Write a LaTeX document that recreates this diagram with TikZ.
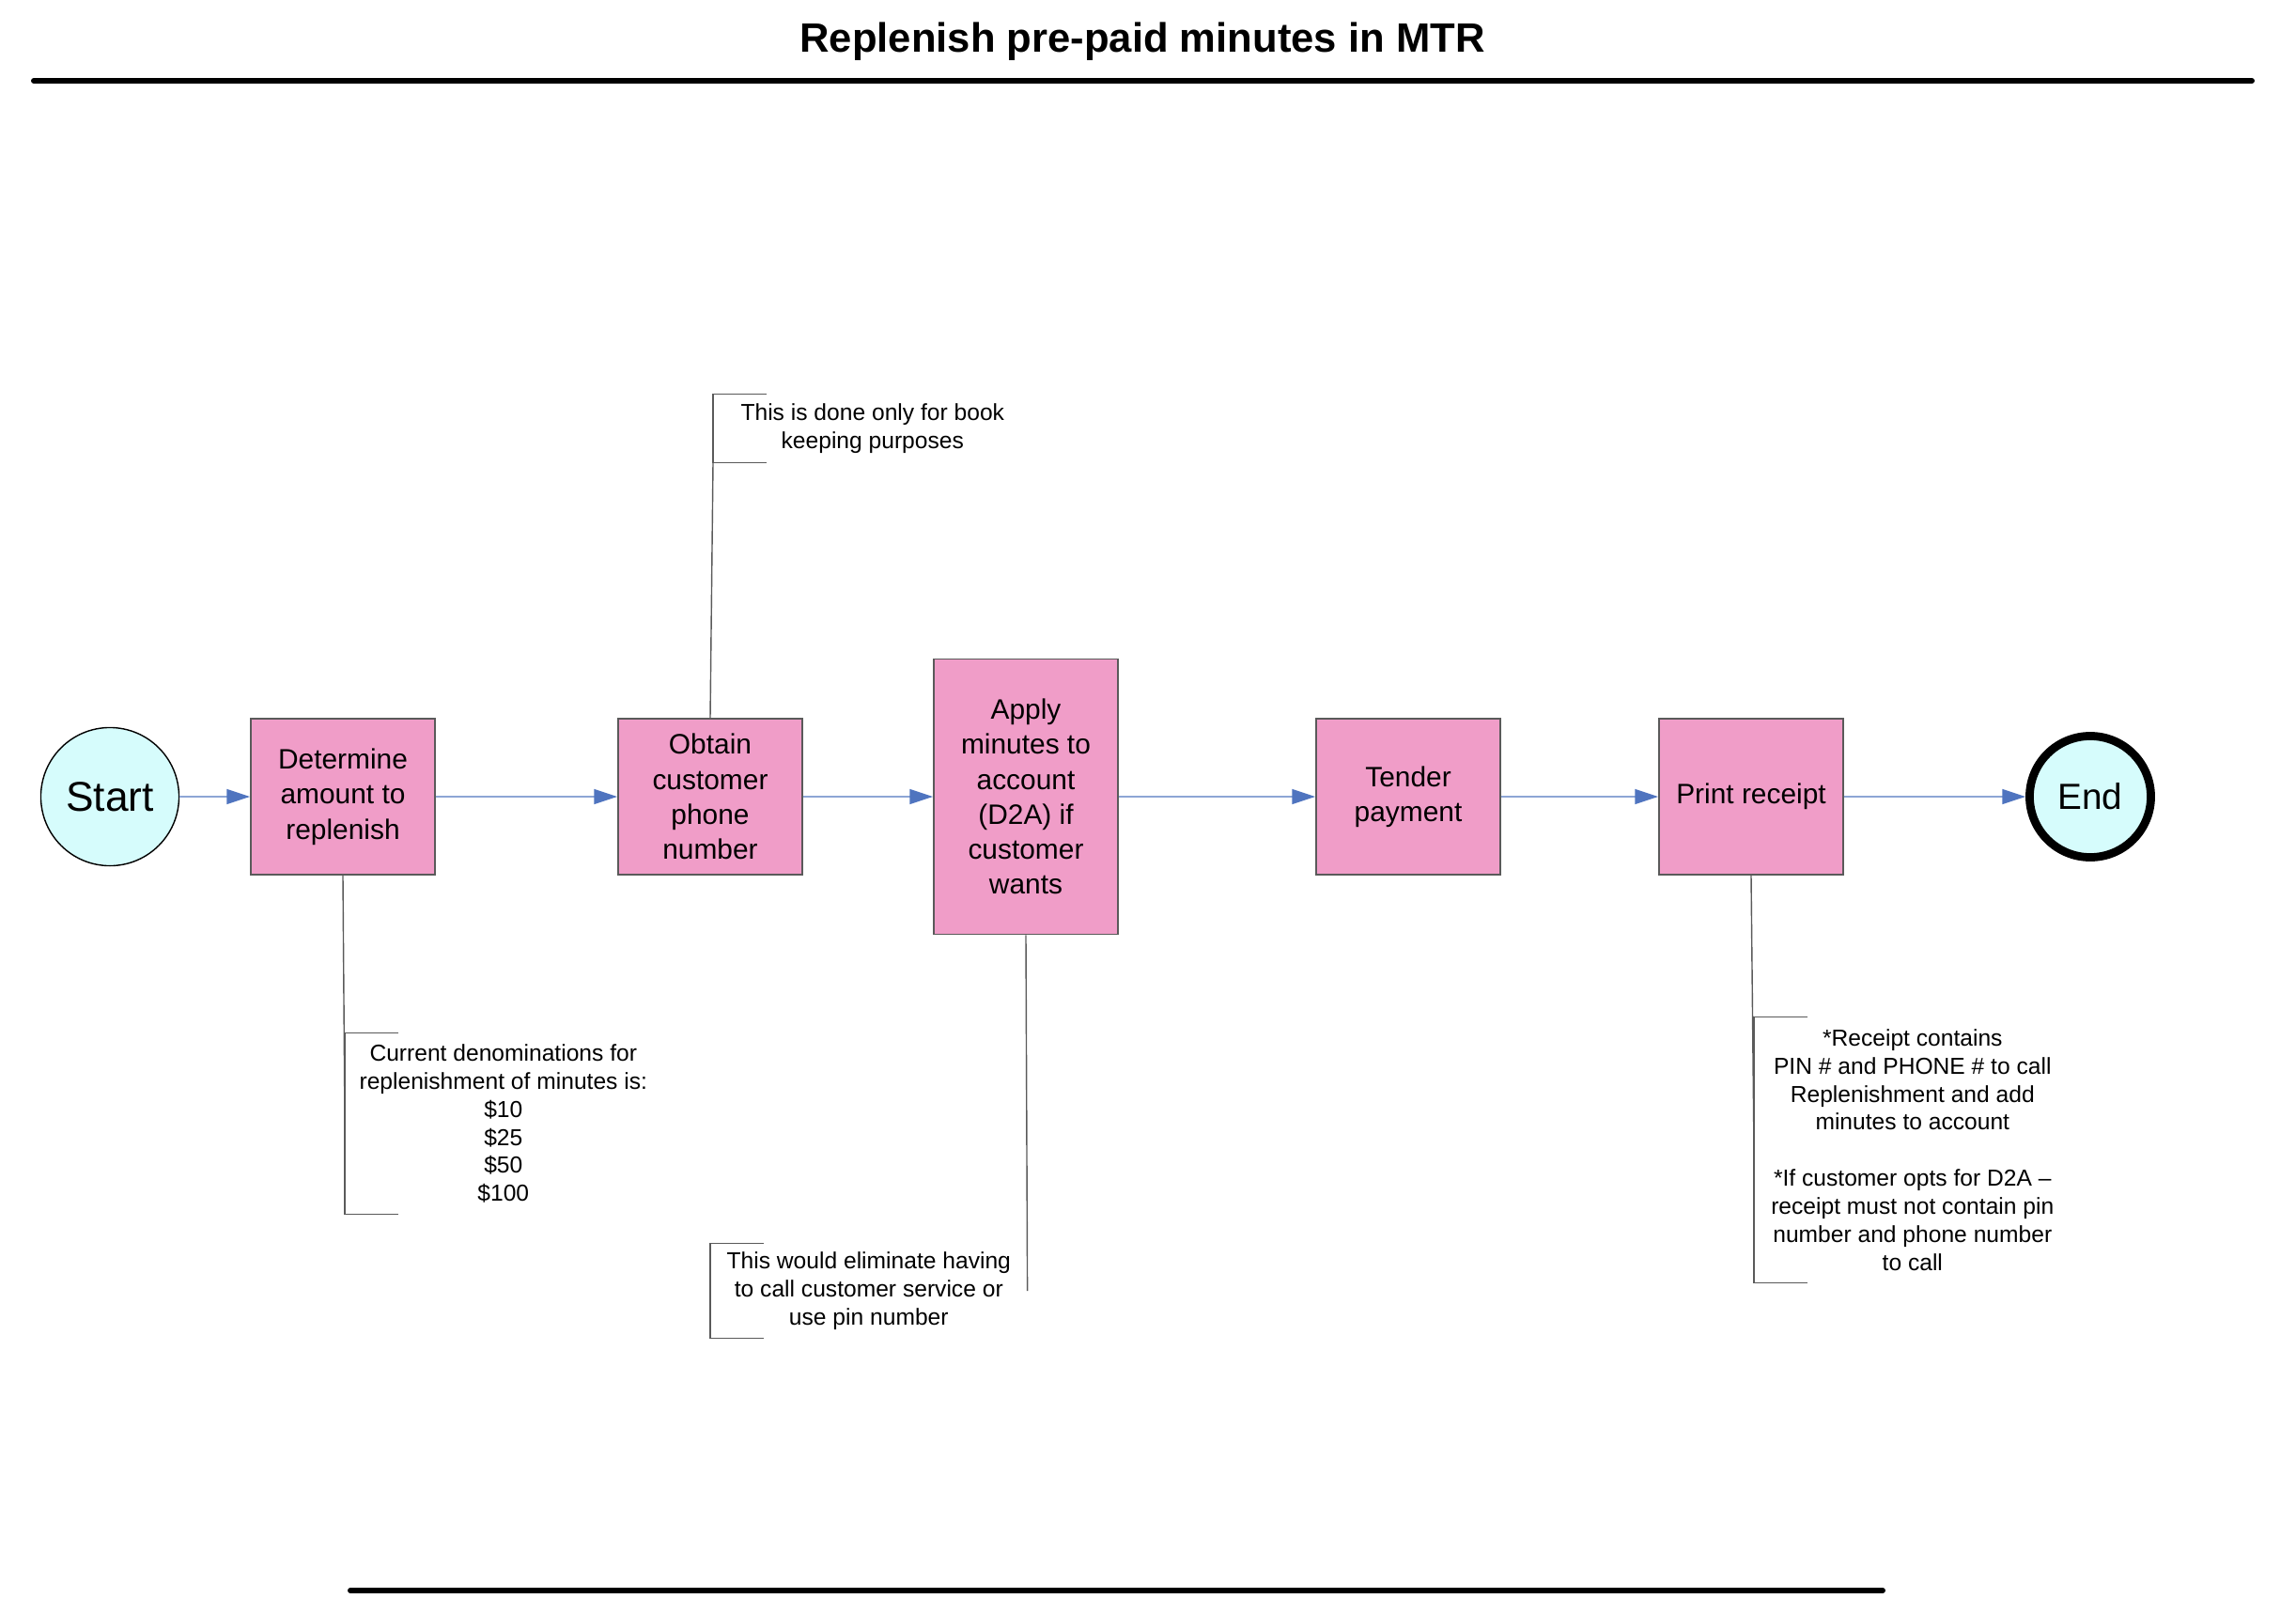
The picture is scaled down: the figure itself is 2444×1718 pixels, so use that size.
\documentclass[tikz,border=0pt]{standalone}
\usepackage{fontspec}
\setmainfont{Liberation Sans}
\usetikzlibrary{arrows.meta, positioning}

\definecolor{stepfill}{RGB}{240,157,200}
\definecolor{termfill}{RGB}{214,252,252}
\definecolor{flowblue}{RGB}{79,116,191}
\definecolor{edgegray}{RGB}{90,90,90}

\begin{document}
\begin{tikzpicture}[x=0.01cm, y=-0.01cm,
  procbox/.style={rectangle, draw=edgegray, fill=stepfill, line width=0.5pt, minimum width=1.96cm, minimum height=1.66cm, inner sep=0pt, align=center, font=\fontsize{8.5}{10.6}\selectfont},
  terminal/.style={circle, draw=black, fill=termfill, inner sep=0pt},
  note/.style={rectangle, anchor=west, inner sep=0pt, align=center, font=\fontsize{7}{8.5}\selectfont},
  arrow/.style={draw=flowblue!65, -{Triangle[length=7pt,width=4.5pt,color=flowblue]}, line width=0.4pt},
  leader/.style={draw=edgegray, line width=0.4pt},
  bracket/.style={draw=edgegray, line width=0.4pt},
  rule/.style={line width=1.7pt, line cap=round}]

  \useasboundingbox (0,0) rectangle (2444,1718);

  \node [font=\bfseries\fontsize{12.4}{14}\selectfont] (title) at (1216,44) {Replenish pre-paid minutes in MTR};
  \draw [rule] (36,86) -- (2397,86);
  \draw [rule] (373,1693) -- (2004,1693);

  \node [terminal, minimum size=1.47cm, line width=0.4pt, font=\fontsize{12.6}{14}\selectfont] (start) at (117,848) {Start};
  \node [procbox] (amount) at (365,848) {Determine\\amount to\\replenish};
  \node [procbox] (obtain) at (756,848) {Obtain\\customer\\phone\\number};
  \node [procbox, minimum height=2.93cm] (apply) at (1092,848) {Apply\\minutes to\\account\\(D2A) if\\customer\\wants};
  \node [procbox] (tender) at (1499,848) {Tender\\payment};
  \node [procbox] (print) at (1864,848) {Print receipt};
  \node [terminal, minimum size=1.29cm, line width=2.5pt, font=\fontsize{11}{13}\selectfont] (finish) at (2225,848) {End};

  \draw [arrow] (start) -- (amount);
  \draw [arrow] (amount) -- (obtain);
  \draw [arrow] (obtain) -- (apply);
  \draw [arrow] (apply) -- (tender);
  \draw [arrow] (tender) -- (print);
  \draw [arrow] (print) -- (finish);

  % annotations
  \node [note, minimum width=3.38cm, minimum height=0.72cm] (keepnote) at (759,456) {This is done only for book\\keeping purposes};
  \node [note, minimum width=3.36cm, minimum height=1.92cm] (denomnote) at (367,1196) {Current denominations for\\replenishment of minutes is:\\\$10\\\$25\\\$50\\\$100};
  \node [note, minimum width=3.36cm, minimum height=0.99cm] (elimnote) at (756,1374) {This would eliminate having\\to call customer service or\\use pin number};
  \node [note, minimum width=3.36cm, minimum height=2.82cm] (receiptnote) at (1867,1224) {*Receipt contains\\PIN \# and PHONE \# to call\\Replenishment and add\\minutes to account\\[8.5pt]*If customer opts for D2A --\\receipt must not contain pin\\number and phone number\\to call};

  \draw [bracket] ([xshift=0.57cm]keepnote.north west) -- (keepnote.north west) -- (keepnote.south west) -- ([xshift=0.57cm]keepnote.south west);
  \draw [bracket] ([xshift=0.57cm]denomnote.north west) -- (denomnote.north west) -- (denomnote.south west) -- ([xshift=0.57cm]denomnote.south west);
  \draw [bracket] ([xshift=0.57cm]elimnote.north west) -- (elimnote.north west) -- (elimnote.south west) -- ([xshift=0.57cm]elimnote.south west);
  \draw [bracket] ([xshift=0.57cm]receiptnote.north west) -- (receiptnote.north west) -- (receiptnote.south west) -- ([xshift=0.57cm]receiptnote.south west);

  \draw [leader] (obtain.north) -- (keepnote.south west);
  \draw [leader] (amount.south) -- (denomnote.west);
  \draw [leader] (apply.south) -- (elimnote.east);
  \draw [leader] (print.south) -- (receiptnote.west);
\end{tikzpicture}
\end{document}
